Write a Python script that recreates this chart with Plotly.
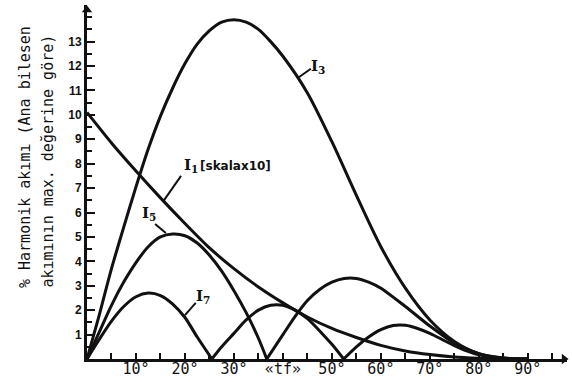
import plotly.graph_objects as go

# ---- data (angle in degrees, current in %) ----
theta_i1 = [0, 5, 10, 15, 20, 25, 30, 35, 40, 45, 50, 55, 60, 65, 70, 75, 80, 85, 90]
i1_scaled = [10.1, 8.85, 7.7, 6.6, 5.55, 4.55, 3.7, 2.95, 2.3, 1.72, 1.25, 0.88,
             0.56, 0.33, 0.18, 0.08, 0.03, 0.0, 0.0]

theta_i3 = [0, 2.5, 5, 7.5, 10, 12.5, 15, 17.5, 20, 22.5, 25, 27.5, 30, 32.5, 35,
            37.5, 40, 45, 50, 55, 60, 65, 70, 75, 80, 85, 90]
i3 = [0, 1.8, 3.7, 5.4, 7.05, 8.6, 9.95, 11.1, 12.1, 12.9, 13.45, 13.8, 13.9, 13.8,
      13.5, 13.0, 12.4, 10.9, 8.9, 6.7, 4.6, 2.9, 1.6, 0.72, 0.22, 0.04, 0]

theta_i5 = [0, 2.5, 5, 7.5, 10, 12.5, 15, 17.5, 20, 22.5, 25, 27.5, 30, 32.5, 35, 36.7,
            None,
            36.7, 40, 42.5, 45, 47.5, 50, 52.5, 55, 57.5, 60, 65, 70, 75, 80, 85, 90]
i5 = [0, 1.1, 2.2, 3.15, 3.95, 4.6, 5.0, 5.12, 5.05, 4.75, 4.25, 3.6, 2.8, 1.9, 0.85, 0,
      None,
      0, 1.0, 1.75, 2.4, 2.85, 3.15, 3.3, 3.3, 3.15, 2.9, 2.15, 1.35, 0.65, 0.22, 0.04, 0]

theta_i7 = [0, 2.5, 5, 7.5, 10, 12.5, 15, 17.5, 20, 22.5, 25.5,
            None,
            25.5, 27.5, 30, 32.5, 35, 37.5, 40, 42.5, 45, 47.5, 50, 52.4,
            None,
            52.4, 55, 57.5, 60, 62.5, 65, 67.5, 70, 72.5, 75, 77.5, 80, 85, 90]
i7 = [0, 0.8, 1.55, 2.15, 2.55, 2.7, 2.6, 2.25, 1.7, 0.9, 0,
      None,
      0, 0.5, 1.05, 1.6, 2.0, 2.2, 2.2, 2.0, 1.65, 1.15, 0.6, 0,
      None,
      0, 0.5, 0.9, 1.2, 1.37, 1.38, 1.25, 1.05, 0.8, 0.55, 0.33, 0.17, 0.03, 0]

x_tickvals = [10, 20, 30, 40, 50, 60, 70, 80, 90]
x_ticktext = ["10°", "20°", "30°", "«tf»", "50°", "60°", "70°", "80°", "90°"]
y_tickvals = list(range(1, 14))

X_MAX = 98
Y_MAX = 14.5
INK = "#111111"
LW = 3

fig = go.Figure()
for xs, ys in [(theta_i1, i1_scaled), (theta_i3, i3), (theta_i5, i5), (theta_i7, i7)]:
    fig.add_trace(go.Scatter(x=xs, y=ys, mode="lines",
                             line=dict(color=INK, width=LW, shape="spline", smoothing=0.8),
                             connectgaps=False, hoverinfo="skip"))

# axis-end arrowheads
fig.add_trace(go.Scatter(x=[0, X_MAX - 0.6], y=[Y_MAX - 0.2, 0], mode="markers",
                         marker=dict(symbol=["triangle-up", "triangle-right"], size=9,
                                     color=INK),
                         cliponaxis=False, hoverinfo="skip"))

fig.update_layout(
    width=572, height=382,
    margin=dict(l=87, r=5, t=5, b=23),
    paper_bgcolor="white", plot_bgcolor="white",
    showlegend=False,
    xaxis=dict(range=[0, X_MAX], showgrid=False, zeroline=False,
               showline=True, linewidth=3, linecolor=INK,
               tickmode="array", tickvals=x_tickvals, ticktext=x_ticktext,
               ticks="inside", ticklen=6, tickwidth=2, tickcolor=INK,
               ticklabelstandoff=-6,
               tickfont=dict(family="DejaVu Sans Mono", size=15, color=INK),
               minor=dict(dtick=5, tick0=0, ticks="inside", ticklen=6,
                          tickwidth=2, tickcolor=INK),
               automargin=False),
    yaxis=dict(range=[0, Y_MAX], showgrid=False, zeroline=False,
               showline=True, linewidth=3, linecolor=INK,
               tickmode="array", tickvals=y_tickvals,
               ticks="inside", ticklen=8, tickwidth=2, tickcolor=INK,
               tickfont=dict(family="Liberation Sans", size=12, color=INK, weight="bold"),
               minor=dict(dtick=0.5, tick0=0, ticks="inside", ticklen=5,
                          tickwidth=2, tickcolor=INK),
               automargin=False),
)

# y-axis title (two rotated lines)
title_font = dict(family="DejaVu Sans Mono", size=15, color=INK)
fig.add_annotation(text="% Harmonik akımı (Ana bilesen", xref="paper", yref="paper",
                   x=-0.129, y=0.195, xanchor="center", yanchor="bottom",
                   textangle=-90, showarrow=False, font=title_font)
fig.add_annotation(text="akımının max. değerine göre)", xref="paper", yref="paper",
                   x=-0.081, y=0.195, xanchor="center", yanchor="bottom",
                   textangle=-90, showarrow=False, font=title_font)

# curve labels
lab_font = dict(family="DejaVu Serif", size=15, color=INK, weight="bold")
fig.add_annotation(text="I<sub>3</sub>", x=47.1, y=11.97, showarrow=False, font=lab_font)
fig.add_annotation(text="I<sub>1</sub>", x=19.4, y=7.91, xanchor="left",
                   showarrow=False, font=lab_font)
fig.add_annotation(text="[skalax10]", x=22.6, y=7.91, xanchor="left", showarrow=False,
                   font=dict(family="DejaVu Sans", size=12, color=INK, weight="bold"))
fig.add_annotation(text="I<sub>5</sub>", x=12.65, y=5.98, showarrow=False, font=lab_font)
fig.add_annotation(text="I<sub>7</sub>", x=23.7, y=2.54, showarrow=False, font=lab_font)

# leader lines
for x0, y0, x1, y1 in [(45.7, 11.89, 43.1, 11.52),
                       (19.2, 7.5, 15.7, 6.5),
                       (13.9, 5.53, 16.1, 5.16),
                       (22.2, 2.30, 20.0, 1.80)]:
    fig.add_shape(type="line", x0=x0, y0=y0, x1=x1, y1=y1, xref="x", yref="y",
                  line=dict(color=INK, width=2))

fig.write_html("out.html", config={"displayModeBar": False},
               post_script="document.body.style.margin='0';document.body.style.overflow='hidden';")
